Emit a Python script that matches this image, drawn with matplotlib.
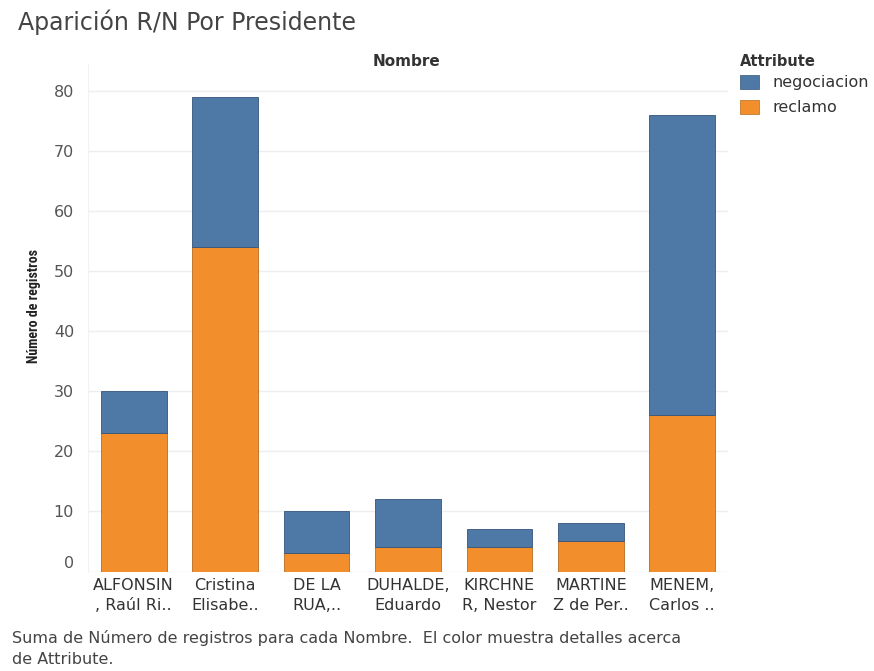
import matplotlib
matplotlib.use('Agg')
import matplotlib.pyplot as plt
import numpy as np

plt.rcParams['font.family'] = ['DejaVu Sans']

# data
nombres = ['ALFONSIN\n, Raúl Ri..', 'Cristina\nElisabe..', 'DE LA\nRUA,..',
           'DUHALDE,\nEduardo', 'KIRCHNE\nR, Nestor', 'MARTINE\nZ de Per..',
           'MENEM,\nCarlos ..']
reclamo = [23, 54, 3, 4, 4, 5, 26]
negociacion = [7, 25, 7, 8, 3, 3, 50]
yticks = [0, 10, 20, 30, 40, 50, 60, 70, 80]

blue = '#4e79a7'
orange = '#f28e2b'
txt = '#555555'

fig = plt.figure(figsize=(8.74, 6.71), dpi=100)
ax = fig.add_axes([88/874, 1 - 571.5/671, 640/874, (571.5 - 64)/671])

x = np.arange(len(nombres))
ax.bar(x, reclamo, width=0.72, color=orange, edgecolor='#b86a20', linewidth=0.6, zorder=3)
ax.bar(x, negociacion, width=0.72, bottom=reclamo, color=blue,
       edgecolor='#34557a', linewidth=0.6, zorder=3)

ax.set_xlim(-0.5, len(nombres) - 0.5)
ax.set_ylim(0, 84.5)
ax.set_yticks(yticks)
ax.set_yticklabels([str(v) for v in yticks], color=txt, fontsize=11.5)
ax.get_yticklabels()[0].set_va('bottom')
ax.set_xticks(x)
ax.set_xticklabels(nombres, color='#333333', fontsize=11.5, linespacing=1.4)
ax.tick_params(axis='both', length=0)
ax.tick_params(axis='y', pad=10)
ax.tick_params(axis='x', pad=5)
ax.grid(axis='y', color='#eeeeee', linewidth=1, zorder=0)
for s in ax.spines.values():
    s.set_visible(False)
ax.spines['left'].set_visible(True)
ax.spines['left'].set_color('#f2f2f2')

ax.set_ylabel('Número de registros', fontsize=10, fontweight='bold', color='#222222',
              family=['Roboto Condensed', 'Roboto', 'DejaVu Sans'])
ax.yaxis.set_label_coords(-0.074, 0.523)

fig.text(18/874, 1 - 22/671, 'Aparición R/N Por Presidente', fontsize=17,
         color='#444444', va='center')
fig.text(407/874, 1 - 61/671, 'Nombre', fontsize=11, fontweight='bold',
         color='#333333', ha='center', va='center')

# legend
fig.text(740/874, 1 - 62/671, 'Attribute', fontsize=10.5, fontweight='bold',
         color='#333333', va='center')
for i, (lab, c, ec) in enumerate([('negociacion', blue, '#34557a'),
                                  ('reclamo', orange, '#b86a20')]):
    yc = 82 + i * 25
    fig.patches.append(plt.Rectangle((740/874, 1 - (yc + 7)/671), 19/874, 14/671,
                                     transform=fig.transFigure, facecolor=c,
                                     edgecolor=ec, linewidth=0.5))
    fig.text(772/874, 1 - yc/671, lab, fontsize=11.5, color='#333333', va='center')

fig.text(12/874, 1 - 638/671,
         'Suma de Número de registros para cada Nombre.  El color muestra detalles acerca',
         fontsize=11.5, color='#444444', va='center')
fig.text(12/874, 1 - 659/671, 'de Attribute.', fontsize=11.5, color='#444444', va='center')

fig.savefig('out.png', dpi=100)
